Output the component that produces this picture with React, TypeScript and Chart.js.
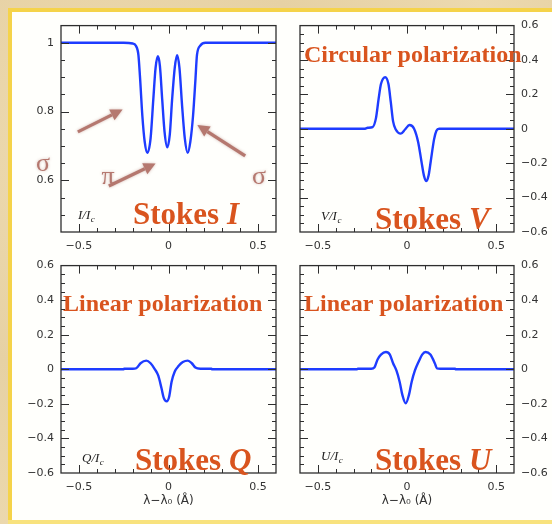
import React, { useEffect, useRef } from 'react';
import { Chart, registerables } from 'chart.js';

Chart.register(...registerables);

// ---------- data ----------
const stokesIX = [-0.6, -0.25, -0.2, -0.183, -0.168, -0.159, -0.146, -0.133, -0.118, -0.1, -0.085, -0.072, -0.059, -0.048, -0.035, -0.022, -0.007, 0.007, 0.02, 0.035, 0.048, 0.061, 0.076, 0.091, 0.107, 0.122, 0.137, 0.15, 0.159, 0.178, 0.206, 0.25, 0.6];
const stokesIY = [1, 1, 0.998, 0.992, 0.965, 0.9, 0.788, 0.713, 0.68, 0.722, 0.834, 0.928, 0.961, 0.933, 0.834, 0.741, 0.696, 0.732, 0.834, 0.928, 0.964, 0.928, 0.816, 0.722, 0.68, 0.713, 0.788, 0.89, 0.965, 0.992, 1, 1, 1];

const stokesVX = [-0.6, -0.24, -0.22, -0.193, -0.174, -0.159, -0.146, -0.122, -0.104, -0.091, -0.078, -0.063, -0.035, -0.011, 0.014, 0.039, 0.063, 0.081, 0.095, 0.109, 0.121, 0.133, 0.152, 0.165, 0.18, 0.22, 0.6];
const stokesVY = [0, 0, 0.006, 0.01, 0.062, 0.175, 0.26, 0.3, 0.26, 0.156, 0.043, -0.004, -0.028, -0.004, 0.022, 0.002, -0.079, -0.19, -0.272, -0.304, -0.272, -0.19, -0.06, -0.011, 0, 0, 0];

const stokesQX = [-0.6, -0.25, -0.248, -0.2, -0.18, -0.156, -0.124, -0.1, -0.076, -0.057, -0.039, -0.026, -0.01, 0.004, 0.017, 0.035, 0.057, 0.08, 0.108, 0.13, 0.15, 0.178, 0.24, 0.242, 0.6];
const stokesQY = [0, 0, 0.003, 0.003, 0.006, 0.035, 0.05, 0.035, 0, -0.037, -0.11, -0.167, -0.185, -0.157, -0.073, -0.013, 0.02, 0.042, 0.05, 0.035, 0.01, 0.003, 0.003, 0, 0];

const stokesUX = [-0.6, -0.28, -0.276, -0.2, -0.183, -0.165, -0.146, -0.118, -0.096, -0.078, -0.059, -0.041, -0.026, -0.007, 0.011, 0.026, 0.044, 0.067, 0.085, 0.104, 0.131, 0.156, 0.168, 0.187, 0.27, 0.272, 0.6];
const stokesUY = [0, 0, 0.003, 0.003, 0.01, 0.057, 0.085, 0.1, 0.085, 0.035, -0.008, -0.073, -0.148, -0.197, -0.148, -0.073, -0.008, 0.048, 0.085, 0.1, 0.085, 0.035, 0.005, 0.003, 0.003, 0, 0];

const xTickValues = [-0.5, 0, 0.5];
const xMinorValues = [-0.5, -0.4, -0.3, -0.2, -0.1, 0, 0.1, 0.2, 0.3, 0.4, 0.5];
const yTickValuesI = [0.6, 0.8, 1];
const yMinorValuesI = [0.5, 0.55, 0.6, 0.65, 0.7, 0.75, 0.8, 0.85, 0.9, 0.95, 1.0];
const yTickValuesPol = [-0.6, -0.4, -0.2, 0, 0.2, 0.4, 0.6];
const yMinorValuesPol = [-0.55, -0.5, -0.45, -0.4, -0.35, -0.3, -0.25, -0.2, -0.15, -0.1, -0.05, 0, 0.05, 0.1, 0.15, 0.2, 0.25, 0.3, 0.35, 0.4, 0.45, 0.5, 0.55];

const xAxisTitle = 'λ−λ₀ (Å)';

// ---------- styles ----------
const CURVE = '#1e3cff';
const FRAME = '#2e2e2e';
const ORANGE = '#d9541e';
const ROSE = '#b5786f';
const TICK_FONT = '"DejaVu Sans"';
const SERIF = '"Liberation Serif"';

const fmt = (v: number) => (Math.abs(v) < 1e-9 ? '0' : (v < 0 ? '\u2212' : '') + String(Math.abs(v)));
const isMajor = (v: number, arr: number[]) => arr.some((m) => Math.abs(m - v) < 1e-6);

type PanelDef = {
  key: string;
  xs: number[];
  ys: number[];
  yMin: number;
  yMax: number;
  yTicks: number[];
  yMinor: number[];
  yPos: 'left' | 'right';
  left: number;
  top: number;
  w: number;
  h: number;
  padding: { top: number; left: number; right: number; bottom: number };
  yAxisWidth: number;
  xAxisHeight: number;
  showXTitle: boolean;
  letter: string;
  stokesAt: [number, number];
  ratioAt: [number, number];
  heading?: { text: string; at: [number, number] };
  arrows?: boolean;
};

const panels: PanelDef[] = [
  {
    key: 'I', xs: stokesIX, ys: stokesIY, yMin: 0.45, yMax: 1.05, yTicks: yTickValuesI, yMinor: yMinorValuesI, yPos: 'left',
    left: 12, top: 12, w: 268, h: 245, padding: { top: 7, left: 0, right: 4, bottom: 0 }, yAxisWidth: 49, xAxisHeight: 25,
    showXTitle: false, letter: 'I', stokesAt: [72, 198], ratioAt: [17, 193], arrows: true,
  },
  {
    key: 'V', xs: stokesVX, ys: stokesVY, yMin: -0.6, yMax: 0.6, yTicks: yTickValuesPol, yMinor: yMinorValuesPol, yPos: 'right',
    left: 290, top: 12, w: 262, h: 245, padding: { top: 7, left: 10, right: 0, bottom: 0 }, yAxisWidth: 38, xAxisHeight: 25,
    showXTitle: false, letter: 'V', stokesAt: [75, 203], ratioAt: [21, 194], heading: { text: 'Circular polarization', at: [4, 36] },
  },
  {
    key: 'Q', xs: stokesQX, ys: stokesQY, yMin: -0.6, yMax: 0.6, yTicks: yTickValuesPol, yMinor: yMinorValuesPol, yPos: 'left',
    left: 12, top: 252, w: 268, h: 268, padding: { top: 7, left: 0, right: 4, bottom: 0 }, yAxisWidth: 49, xAxisHeight: 47,
    showXTitle: true, letter: 'Q', stokesAt: [74, 204], ratioAt: [21, 196], heading: { text: 'Linear polarization', at: [2, 45] },
  },
  {
    key: 'U', xs: stokesUX, ys: stokesUY, yMin: -0.6, yMax: 0.6, yTicks: yTickValuesPol, yMinor: yMinorValuesPol, yPos: 'right',
    left: 290, top: 252, w: 262, h: 268, padding: { top: 7, left: 10, right: 0, bottom: 0 }, yAxisWidth: 38, xAxisHeight: 47,
    showXTitle: true, letter: 'U', stokesAt: [75, 204], ratioAt: [21, 194], heading: { text: 'Linear polarization', at: [4, 45] },
  },
];

// arrows of the Stokes I panel, in data coordinates
const arrowsI: { from: [number, number]; to: [number, number] }[] = [
  { from: [-0.506, 0.741], to: [-0.256, 0.806] },
  { from: [-0.333, 0.584], to: [-0.072, 0.649] },
  { from: [0.428, 0.671], to: [0.161, 0.761] },
];
// symbols (offsets from the plot area's top-left corner)
const symbolsI: { text: string; at: [number, number] }[] = [
  { text: 'σ', at: [-18, 145] },
  { text: 'π', at: [47, 158] },
  { text: 'σ', at: [198, 158] },
];

function drawArrow(ctx: CanvasRenderingContext2D, x1: number, y1: number, x2: number, y2: number) {
  const ang = Math.atan2(y2 - y1, x2 - x1);
  const head = 12;
  const hw = 6;
  const bx = x2 - head * Math.cos(ang);
  const by = y2 - head * Math.sin(ang);
  ctx.beginPath();
  ctx.moveTo(x1, y1);
  ctx.lineTo(bx, by);
  ctx.stroke();
  ctx.beginPath();
  ctx.moveTo(x2, y2);
  ctx.lineTo(bx + hw * Math.sin(ang), by - hw * Math.cos(ang));
  ctx.lineTo(bx - hw * Math.sin(ang), by + hw * Math.cos(ang));
  ctx.closePath();
  ctx.fill();
}

function makeDecor(def: PanelDef) {
  return {
    id: 'decor' + def.key,
    afterDraw(chart: any) {
      const { ctx, chartArea: a } = chart;
      const sx = chart.scales.x;
      const sy = chart.scales.y;
      ctx.save();
      // frame
      ctx.strokeStyle = FRAME;
      ctx.lineWidth = 1.3;
      ctx.strokeRect(a.left, a.top, a.right - a.left, a.bottom - a.top);
      ctx.beginPath();
      for (const v of xMinorValues) {
        const px = Math.round(sx.getPixelForValue(v)) + 0.5;
        const len = isMajor(v, xTickValues) ? 8 : 4;
        ctx.moveTo(px, a.top);
        ctx.lineTo(px, a.top + len);
        ctx.moveTo(px, a.bottom);
        ctx.lineTo(px, a.bottom - len);
      }
      for (const v of def.yMinor) {
        const py = Math.round(sy.getPixelForValue(v)) + 0.5;
        const len = isMajor(v, def.yTicks) ? 8 : 4;
        ctx.moveTo(a.left, py);
        ctx.lineTo(a.left + len, py);
        ctx.moveTo(a.right, py);
        ctx.lineTo(a.right - len, py);
      }
      ctx.lineWidth = 1;
      ctx.stroke();

      // heading
      ctx.textBaseline = 'alphabetic';
      ctx.textAlign = 'left';
      if (def.heading) {
        ctx.fillStyle = ORANGE;
        ctx.font = `bold 24px ${SERIF}`;
        ctx.fillText(def.heading.text, a.left + def.heading.at[0], a.top + def.heading.at[1]);
      }
      // Stokes X
      {
        const x = a.left + def.stokesAt[0];
        const y = a.top + def.stokesAt[1];
        ctx.fillStyle = ORANGE;
        ctx.font = `bold 31px ${SERIF}`;
        ctx.fillText('Stokes ', x, y);
        const w = ctx.measureText('Stokes ').width;
        ctx.font = `italic bold 31px ${SERIF}`;
        ctx.fillText(def.letter, x + w, y);
      }
      // X/I_c
      {
        const x = a.left + def.ratioAt[0];
        const y = a.top + def.ratioAt[1];
        ctx.fillStyle = '#222';
        ctx.font = `italic 13px ${SERIF}`;
        const t = def.letter + '/I';
        ctx.fillText(t, x, y);
        const w = ctx.measureText(t).width;
        ctx.font = `italic 9px ${SERIF}`;
        ctx.fillText('c', x + w + 0.5, y + 3);
      }
      // arrows + symbols
      if (def.arrows) {
        ctx.strokeStyle = ROSE;
        ctx.fillStyle = ROSE;
        ctx.lineWidth = 3.3;
        ctx.lineCap = 'butt';
        ctx.shadowColor = 'rgba(160,100,90,0.45)';
        ctx.shadowBlur = 3;
        for (const ar of arrowsI) {
          drawArrow(
            ctx,
            sx.getPixelForValue(ar.from[0]), sy.getPixelForValue(ar.from[1]),
            sx.getPixelForValue(ar.to[0]), sy.getPixelForValue(ar.to[1]),
          );
        }
        ctx.font = `26px ${SERIF}`;
        ctx.textAlign = 'center';
        for (const s of symbolsI) {
          ctx.fillText(s.text, a.left + s.at[0], a.top + s.at[1]);
        }
      }
      ctx.restore();
    },
  };
}

function buildConfig(def: PanelDef): any {
  return {
    type: 'scatter',
    data: {
      datasets: [
        {
          data: def.xs.map((x, i) => ({ x, y: def.ys[i] })),
          showLine: true,
          borderColor: CURVE,
          borderWidth: 2.4,
          pointRadius: 0,
          pointHoverRadius: 0,
          cubicInterpolationMode: 'monotone',
          fill: false,
        },
      ],
    },
    options: {
      animation: false,
      responsive: false,
      events: [],
      layout: { padding: def.padding },
      plugins: { legend: { display: false }, tooltip: { enabled: false } },
      scales: {
        x: {
          type: 'linear',
          position: 'bottom',
          min: -0.6,
          max: 0.6,
          grid: { display: false, drawTicks: false },
          border: { display: false },
          afterBuildTicks: (s: any) => {
            s.ticks = xTickValues.map((v) => ({ value: v }));
          },
          afterFit: (s: any) => {
            s.height = def.xAxisHeight;
          },
          ticks: {
            padding: 8,
            color: '#333',
            autoSkip: false,
            maxRotation: 0,
            font: { family: TICK_FONT, size: 11 },
            callback: (v: any) => fmt(Number(v)),
          },
          title: {
            display: def.showXTitle,
            text: xAxisTitle,
            color: '#333',
            font: { family: TICK_FONT, size: 12 },
            padding: { top: 0, bottom: 12 },
          },
        },
        y: {
          type: 'linear',
          position: def.yPos,
          min: def.yMin,
          max: def.yMax,
          grid: { display: false, drawTicks: false },
          border: { display: false },
          afterBuildTicks: (s: any) => {
            s.ticks = def.yTicks.map((v) => ({ value: v }));
          },
          afterFit: (s: any) => {
            s.width = def.yAxisWidth;
          },
          ticks: {
            padding: 7,
            color: '#333',
            autoSkip: false,
            font: { family: TICK_FONT, size: 11 },
            callback: (v: any) => fmt(Number(v)),
          },
        },
      },
    },
    plugins: [makeDecor(def)],
  };
}

function Panel({ def }: { def: PanelDef }) {
  const ref = useRef<HTMLCanvasElement>(null);
  useEffect(() => {
    const canvas = ref.current;
    if (!canvas) return;
    const chart = new Chart(canvas, buildConfig(def));
    return () => chart.destroy();
  }, [def]);
  return (
    <canvas
      ref={ref}
      width={def.w}
      height={def.h}
      style={{ position: 'absolute', left: def.left, top: def.top, width: def.w, height: def.h }}
    />
  );
}

export default function App() {
  return (
    <div
      style={{
        position: 'absolute',
        left: 0,
        top: 0,
        width: 552,
        height: 524,
        overflow: 'hidden',
        background: 'radial-gradient(circle at 20% 30%, #efdcb2 0%, #e6d1a4 40%, #ecd9af 70%, #e3cd9e 100%)',
      }}
    >
      <div style={{ position: 'absolute', left: 8, top: 8, width: 544, height: 4, background: '#f5d34a' }} />
      <div style={{ position: 'absolute', left: 8, top: 8, width: 4, height: 516, background: '#f5d34a' }} />
      <div style={{ position: 'absolute', left: 8, top: 520, width: 544, height: 4, background: '#f8e27e' }} />
      <div style={{ position: 'absolute', left: 12, top: 12, width: 540, height: 508, background: '#fffffc' }} />
      {panels.map((p) => (
        <Panel key={p.key} def={p} />
      ))}
    </div>
  );
}
